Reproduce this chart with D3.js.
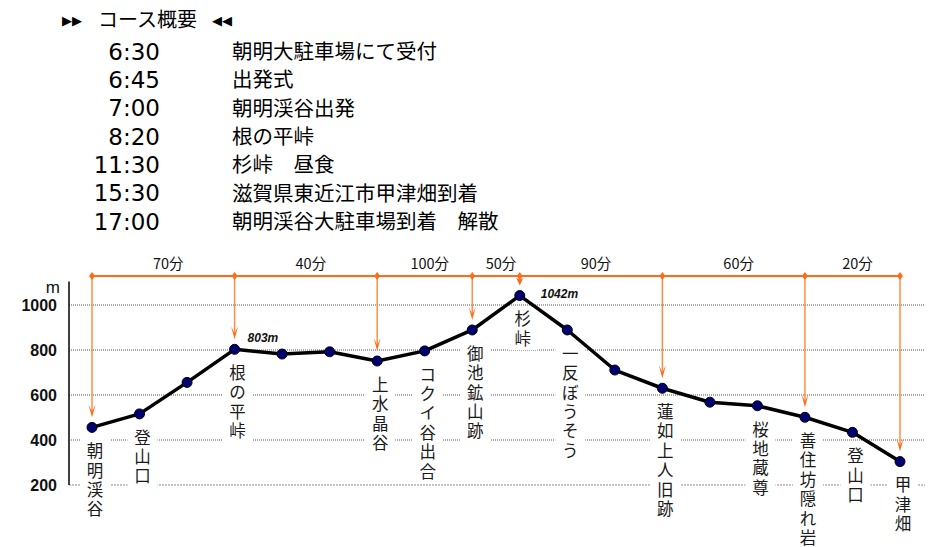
<!DOCTYPE html>
<html>
<head>
<meta charset="utf-8">
<script src="https://cdn.jsdelivr.net/npm/d3@7"></script>
<style>
  body { margin: 0; background: #fff; }
  svg { display: block; }
</style>
</head>
<body>
<div id="chart"></div>
<script>
// course schedule
const scheduleTimes = ['6:30', '6:45', '7:00', '8:20', '11:30', '15:30', '17:00'];
const scheduleEvents = [
    '朝明大駐車場にて受付',
    '出発式',
    '朝明渓谷出発',
    '根の平峠',
    '杉峠\u3000昼食',
    '滋賀県東近江市甲津畑到着',
    '朝明渓谷大駐車場到着\u3000解散'
];

// elevation profile, one entry per station
const stationNames = [
    '朝明渓谷', '登山口', '', '根の平峠', '', '', '上水晶谷', 'コクイ谷出合',
    '御池鉱山跡', '杉峠', '一反ぼうそう', '', '蓮如上人旧跡', '', '桜地蔵尊',
    '善住坊隠れ岩', '登山口', '甲津畑'
];
const elevations = [
    456, 516, 656, 803, 782, 792, 751, 796,
    889, 1042, 889, 711, 630, 568, 552, 501, 434, 304
];
const peakStations = [3, 9];

// walking times between checkpoints
const checkpoints = [0, 3, 6, 8, 9, 12, 15, 17];
const legTimes = ['70分', '40分', '100分', '50分', '90分', '60分', '20分'];

const yTicks = [200, 400, 600, 800, 1000];

const W = 950, H = 547;
const jp = '"Noto Sans CJK JP", "Noto Sans", sans-serif';
const orange = '#ff6c17', orangeLight = '#ff8f45';

const svg = d3.select('#chart').append('svg')
    .attr('width', W).attr('height', H);

// ---- header ----
const head = svg.append('g');
head.append('text')
    .attr('x', 62).attr('y', 20).attr('dy', '0.35em')
    .style('font-family', 'DejaVu Sans').style('font-size', '13px')
    .attr('fill', '#000').text('\u25B6\u25B6');
head.append('text')
    .attr('x', 98).attr('y', 20).attr('dy', '0.35em')
    .style('font-family', jp).style('font-size', '20px')
    .attr('fill', '#000').text('コース概要');
head.append('text')
    .attr('x', 212).attr('y', 20).attr('dy', '0.35em')
    .style('font-family', 'DejaVu Sans').style('font-size', '13px')
    .attr('fill', '#000').text('\u25C0\u25C0');

const rowY = d3.scaleLinear().domain([0, scheduleTimes.length - 1]).range([51.5, 221.5]);

head.selectAll('.time')
    .data(scheduleTimes)
    .enter().append('text')
        .attr('class', 'time')
        .attr('x', 160)
        .attr('y', (d, i) => rowY(i))
        .attr('dy', '0.36em')
        .attr('text-anchor', 'end')
        .style('font-family', 'DejaVu Sans').style('font-size', '23px')
        .attr('fill', '#000')
        .text(d => d);

head.selectAll('.event')
    .data(scheduleEvents)
    .enter().append('text')
        .attr('class', 'event')
        .attr('x', 232)
        .attr('y', (d, i) => rowY(i))
        .attr('dy', '0.36em')
        .style('font-family', jp).style('font-size', '20.5px')
        .attr('fill', '#000')
        .text(d => d);

// ---- profile ----
const x = d3.scalePoint()
    .domain(d3.range(elevations.length))
    .range([92, 900]);
const y = d3.scaleLinear()
    .domain([200, 1000])
    .range([485, 305]);

const gridLeft = 69, gridRight = 925;

svg.append('g').selectAll('line')
    .data(yTicks)
    .enter().append('line')
        .attr('x1', gridLeft).attr('x2', gridRight)
        .attr('y1', d => y(d)).attr('y2', d => y(d))
        .attr('stroke', d => d === 200 ? '#c4c4c4' : '#555')
        .attr('stroke-width', d => d === 200 ? 2 : 1)
        .attr('stroke-dasharray', d => d === 200 ? '2,1' : '1,1');

svg.append('line')
    .attr('x1', gridLeft).attr('x2', gridLeft)
    .attr('y1', y(1105)).attr('y2', y(200))
    .attr('stroke', '#000').attr('stroke-width', 1.5);

svg.append('g').selectAll('text')
    .data(yTicks)
    .enter().append('text')
        .attr('x', 57)
        .attr('y', d => y(d))
        .attr('dy', '0.36em')
        .attr('text-anchor', 'end')
        .style('font-family', 'Liberation Sans').style('font-size', '16px')
        .style('font-weight', 'bold')
        .attr('fill', '#111')
        .text(d => d);

svg.append('text')
    .attr('x', 60).attr('y', y(1080)).attr('dy', '0.36em')
    .attr('text-anchor', 'end')
    .style('font-family', 'Liberation Sans').style('font-size', '17px')
    .attr('fill', '#111').text('m');

// station labels, one character per row, on a white backing
const charStep = 19.4;
const labels = svg.append('g').selectAll('g')
    .data(stationNames.map((name, i) => ({ name, i })).filter(d => d.name))
    .enter().append('g')
        .attr('transform', d => `translate(${x(d.i) + 3},${y(elevations[d.i]) + 24})`);

labels.append('rect')
    .attr('x', -15).attr('width', 30)
    .attr('y', -13)
    .attr('height', d => (d.name.length - 1) * charStep + 24)
    .attr('fill', '#fff');

labels.selectAll('text')
    .data(d => Array.from(d.name))
    .enter().append('text')
        .attr('x', 0)
        .attr('y', (c, k) => k * charStep)
        .attr('dy', '0.35em')
        .attr('text-anchor', 'middle')
        .style('font-family', jp).style('font-size', '16.5px')
        .attr('fill', '#1a1a1a')
        .text(c => c);

// timing bar
const barY = 276;
const timing = svg.append('g');

timing.append('line')
    .attr('x1', x(checkpoints[0])).attr('x2', x(checkpoints[checkpoints.length - 1]))
    .attr('y1', barY).attr('y2', barY)
    .attr('stroke', orange).attr('stroke-width', 2);

timing.selectAll('.drop')
    .data(checkpoints)
    .enter().append('line')
        .attr('class', 'drop')
        .attr('x1', d => x(d)).attr('x2', d => x(d))
        .attr('y1', barY)
        .attr('y2', d => y(elevations[d]) - 14)
        .attr('stroke', orangeLight).attr('stroke-width', 1.5);

timing.selectAll('.head')
    .data(checkpoints)
    .enter().append('path')
        .attr('class', 'head')
        .attr('d', d => {
            const px = x(d), tip = y(elevations[d]) - 10;
            const back = Math.max(tip - 13, barY + 2);
            return `M${px},${tip}L${px - 3.5},${back}L${px},${tip - 6}L${px + 3.5},${back}Z`;
        })
        .attr('fill', orange);

timing.selectAll('.knot')
    .data(checkpoints)
    .enter().append('path')
        .attr('class', 'knot')
        .attr('d', d => {
            const px = x(d);
            return `M${px},${barY - 4}L${px + 3},${barY}L${px},${barY + 4}L${px - 3},${barY}Z`;
        })
        .attr('fill', orange);

timing.selectAll('.leg')
    .data(legTimes)
    .enter().append('text')
        .attr('class', 'leg')
        .attr('x', (d, i) => (x(checkpoints[i]) + x(checkpoints[i + 1])) / 2 + 5)
        .attr('y', barY - 7)
        .attr('text-anchor', 'middle')
        .style('font-family', jp).style('font-size', '14.5px')
        .attr('fill', '#111')
        .text(d => d);

// elevation line and points
const line = d3.line()
    .x((d, i) => x(i))
    .y(d => y(d));

svg.append('path')
    .datum(elevations)
    .attr('d', line)
    .attr('fill', 'none')
    .attr('stroke', '#000')
    .attr('stroke-width', 3.5)
    .attr('stroke-linejoin', 'round');

svg.append('g').selectAll('circle')
    .data(elevations)
    .enter().append('circle')
        .attr('cx', (d, i) => x(i))
        .attr('cy', d => y(d))
        .attr('r', 5)
        .attr('fill', '#000070')
        .attr('stroke', '#000')
        .attr('stroke-width', 1);

svg.append('g').selectAll('text')
    .data(peakStations)
    .enter().append('text')
        .attr('x', d => x(d) + (d === 9 ? 21 : 13))
        .attr('y', d => y(elevations[d]) - (d === 9 ? 2 : 12))
        .attr('dy', '0.35em')
        .style('font-family', 'Liberation Sans')
        .style('font-size', '12px')
        .style('font-weight', 'bold')
        .style('font-style', 'italic')
        .attr('fill', '#111')
        .text(d => elevations[d] + 'm');
</script>
</body>
</html>
